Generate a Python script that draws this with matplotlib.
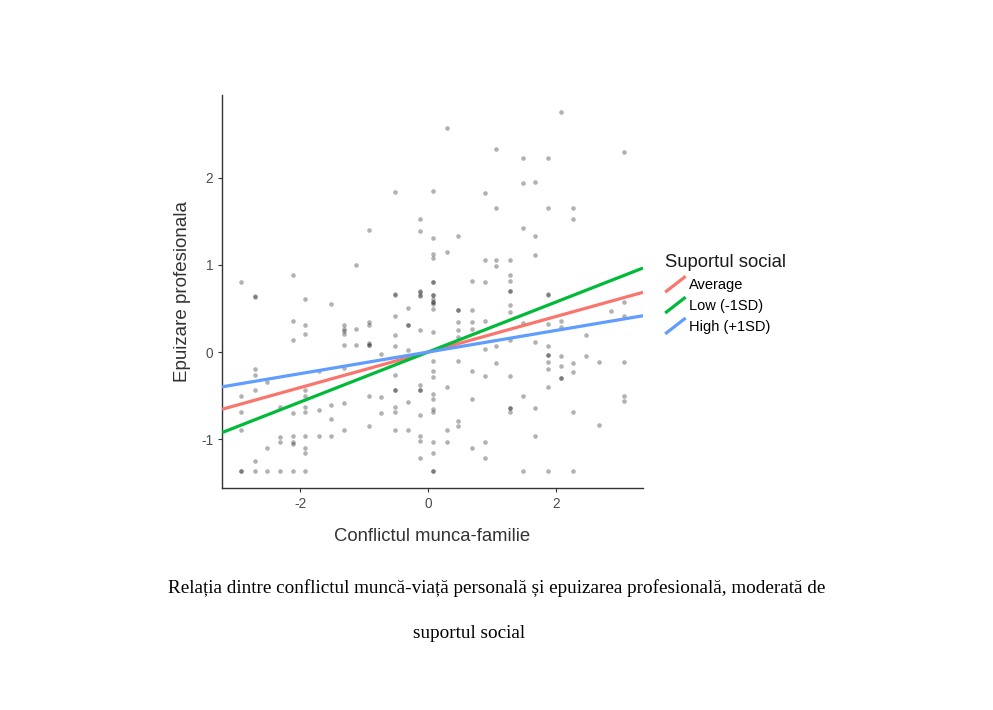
#imports
import numpy as np
import matplotlib
matplotlib.use("Agg")
import matplotlib.pyplot as plt
from matplotlib.lines import Line2D
from matplotlib.legend_handler import HandlerBase


#data
conflict = [
    -2.92, -2.71, -2.11, -1.12,
    0.29, 1.07, -0.52, 0.08, 0.89, 1.07, -0.125, -0.92, -0.125, 0.08, 0.47,
    0.08, 0.08, 0.29, 0.89, 1.07, 1.07, 0.08, 0.08, 0.68, 0.89, -0.125, -0.52, 0.08,
    2.08, 3.07, 1.48, 1.88, 1.48, 1.67, 1.88, 2.27, 2.27, 1.48, 1.67, 1.67,
    1.28, 1.28, 1.28, 1.28, 1.88,
    -2.71, -1.92, -1.51, -2.11, -1.92, -1.92, -2.11, -1.32, -1.32, -1.32, -1.32,
    -1.12, -1.32, -1.12, -2.71, -2.71, -2.52, -2.92, -2.71, -1.92, -1.92, -1.71,
    -1.32, -1.32, -2.92, -2.92, -2.32, -2.11, -1.92, -1.92, -1.71, -1.51, -1.51,
    -1.32, -2.32, -2.32, -2.11, -2.11, -2.11, -1.92, -1.92, -1.92, -1.71, -1.51,
    -2.52, -2.71, -2.92, -2.92, -2.71, -2.52, -2.32, -2.11, -1.92,
    -0.52, -0.125, -0.125, -0.125, 0.08, 0.08, 0.08, 0.08, 0.08, 0.08, -0.31,
    0.47, 0.47, 0.68, -0.52, -0.92, -0.92, -0.31, -0.31, 0.47, 0.68, 0.89, 0.68,
    0.47, -0.125, 0.08, -0.52, 0.47, -0.92, -0.92, -0.92, -0.52, -0.31, 0.89,
    1.07, -0.73, 0.08, 0.47, 1.07, 0.08, 0.08, 0.68, 0.89, -0.52, -0.125,
    -0.125, -0.125, -0.52, -0.52, 0.29, -0.92, -0.73, -0.31, 0.08, 0.08, 0.68,
    -0.52, -0.52, -0.73, -0.125, 0.08, 0.08, 0.47, 0.47, -0.92, -0.52, -0.31,
    0.29, -0.125, -0.125, 0.08, 0.29, 0.89, 0.68, 0.08, -0.125, 0.89, 0.08, 0.08,
    1.28, 1.88, 1.28, 1.28, 3.07, 2.86, 3.07, 1.48, 1.88, 2.08, 2.08, 2.47,
    1.28, 1.67, 1.88, 1.88, 1.88, 2.08, 1.88, 2.27, 2.47, 2.68, 3.07, 2.08,
    1.88, 2.27, 1.28, 2.08, 2.08, 1.88, 1.48, 3.07, 3.07, 1.28, 1.28, 1.28,
    1.67, 2.27, 2.68, 1.67, 1.48, 1.88, 2.27,
]
burnout = [
    0.80, 0.63, 0.88, 1.00,
    2.57, 2.33, 1.84, 1.85, 1.82, 1.65, 1.53, 1.40, 1.39, 1.31, 1.33,
    1.13, 1.08, 1.15, 1.06, 1.06, 0.99, 0.80, 0.80, 0.82, 0.80, 0.70, 0.67, 0.66,
    2.75, 2.30, 2.23, 2.23, 1.94, 1.95, 1.65, 1.65, 1.53, 1.42, 1.33, 1.11,
    1.06, 0.88, 0.82, 0.70, 0.67,
    0.64, 0.61, 0.55, 0.36, 0.31, 0.21, 0.14, 0.31, 0.27, 0.24, 0.21,
    0.26, 0.08, 0.08, -0.19, -0.26, -0.34, -0.50, -0.43, -0.43, -0.50, -0.22,
    -0.18, -0.58, -0.69, -0.90, -0.63, -0.70, -0.63, -0.69, -0.66, -0.61, -0.77,
    -0.90, -0.97, -1.03, -0.96, -1.03, -1.06, -0.96, -1.10, -1.16, -0.96, -0.96,
    -1.10, -1.25, -1.36, -1.36, -1.36, -1.36, -1.36, -1.36, -1.36,
    0.66, 0.69, 0.66, 0.64, 0.66, 0.61, 0.57, 0.57, 0.55, 0.49, 0.51,
    0.48, 0.48, 0.48, 0.41, 0.34, 0.31, 0.31, 0.31, 0.34, 0.34, 0.36, 0.26,
    0.25, 0.25, 0.23, 0.20, 0.17, 0.10, 0.08, 0.08, 0.07, 0.02, 0.04,
    0.07, -0.02, -0.10, -0.10, -0.12, -0.22, -0.29, -0.22, -0.28, -0.26, -0.38,
    -0.43, -0.43, -0.43, -0.43, -0.40, -0.50, -0.52, -0.57, -0.48, -0.54, -0.54,
    -0.63, -0.69, -0.70, -0.72, -0.65, -0.69, -0.79, -0.85, -0.85, -0.90, -0.90,
    -0.90, -0.96, -1.02, -1.03, -1.03, -1.03, -1.10, -1.16, -1.22, -1.22, -1.36, -1.36,
    0.70, 0.66, 0.54, 0.46, 0.58, 0.47, 0.41, 0.33, 0.32, 0.36, 0.29, 0.19,
    0.14, 0.11, 0.07, -0.03, -0.03, -0.04, -0.11, -0.12, -0.05, -0.11, -0.11, -0.16,
    -0.19, -0.23, -0.28, -0.30, -0.30, -0.40, -0.50, -0.50, -0.56, -0.64, -0.64, -0.69,
    -0.64, -0.69, -0.84, -0.96, -1.36, -1.36, -1.36,
]

# simple slopes of the moderation model
groups = ["Average", "Low (-1SD)", "High (+1SD)"]
slopes = [0.204, 0.287, 0.124]
intercepts = [0.0, 0.0, 0.0]
colors = ["#F8766D", "#00BA38", "#619CFF"]

xlim = (-3.22, 3.36)
ylim = (-1.56, 2.95)


class DiagonalKey(HandlerBase):
    # ggplot style abline key: a diagonal line
    def create_artists(self, legend, orig, xd, yd, w, h, fontsize, trans):
        ln = Line2D([-xd, -xd + w], [-yd, -yd + h], color=orig.get_color(),
                    lw=orig.get_linewidth(), solid_capstyle="butt")
        ln.set_transform(trans)
        return [ln]


plt.rcParams["font.family"] = ["Liberation Sans", "DejaVu Sans"]
plt.rcParams["axes.unicode_minus"] = False

fig = plt.figure(figsize=(9.93, 7.1), dpi=100)
ax = fig.add_axes([0.2236, 0.3127, 0.4239, 0.5535])

ax.scatter(conflict, burnout, s=11, color="black", alpha=0.3, linewidths=0, zorder=2)

xs = np.array(xlim)
handles = []
for name, b, a, c in zip(groups, slopes, intercepts, colors):
    h, = ax.plot(xs, a + b * xs, color=c, lw=2.3, label=name, zorder=3,
                 solid_capstyle="butt")
    handles.append(h)

ax.set_xlim(*xlim)
ax.set_ylim(*ylim)
ax.set_xticks([-2, 0, 2])
ax.set_yticks([-1, 0, 1, 2])
for s in ["top", "right"]:
    ax.spines[s].set_visible(False)
for s in ["left", "bottom"]:
    ax.spines[s].set_color("#333333")
    ax.spines[s].set_linewidth(1.0)
ax.tick_params(colors="#333333", labelcolor="#4D4D4D", labelsize=9.8, length=3)
ax.set_xlabel("Conflictul munca-familie", fontsize=13.3, color="#333333", labelpad=12)
ax.set_ylabel("Epuizare profesionala", fontsize=13.5, color="#333333", labelpad=7)

leg = fig.legend(handles=handles, loc="upper left", bbox_to_anchor=(0.664, 0.650),
                 frameon=False, title="Suportul social", title_fontsize=13.3,
                 fontsize=10.5, handlelength=1.4, handleheight=1.3, handletextpad=0.25,
                 labelspacing=0.34, borderaxespad=0,
                 handler_map={Line2D: DiagonalKey()})
leg._legend_box.align = "left"
leg.get_title().set_color("#1a1a1a")

fig.text(0.5005, 1 - 588 / 710, "Relația dintre conflictul muncă-viață personală și epuizarea profesională, moderată de",
         ha="center", va="center", fontsize=13.8, family="Liberation Serif")
fig.text(469 / 993, 1 - 633 / 710, "suportul social",
         ha="center", va="center", fontsize=13.8, family="Liberation Serif")

fig.savefig("out.png", dpi=100)
